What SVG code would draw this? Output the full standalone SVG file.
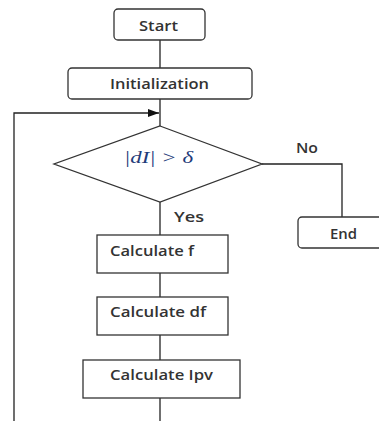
<svg xmlns="http://www.w3.org/2000/svg" width="379" height="421" viewBox="0 0 379 421">
<defs>
<style>
.box{fill:#fff;stroke:#333;stroke-width:1.3}
.ln{fill:none;stroke:#222;stroke-width:1.3}
.t{font-family:"Open Sans","Liberation Sans",sans-serif;font-size:14.5px;font-weight:600;fill:#333}
.m{font-family:"Liberation Serif","DejaVu Serif",serif;font-style:italic;font-size:16px;fill:#1f3c7a}
</style>
<marker id="ah" markerWidth="11" markerHeight="8" refX="11" refY="4" orient="auto" markerUnits="userSpaceOnUse">
<path d="M0,0 L11,4 L0,8 Z" fill="#111"/>
</marker>
</defs>
<rect width="379" height="421" fill="#fff"/>
<g id="connectors">
<path class="ln" d="M160,40 V68"/>
<path class="ln" d="M160,99 V126"/>
<path class="ln" d="M14,421 V113 H159" marker-end="url(#ah)"/>
<path class="ln" d="M262,164 H342 V217"/>
<path class="ln" d="M160,202 V235"/>
<path class="ln" d="M160,273 V297"/>
<path class="ln" d="M160,335 V360"/>
<path class="ln" d="M160,398 V421"/>
<text class="t" x="296" y="153" textLength="22" lengthAdjust="spacingAndGlyphs">No</text>
<text class="t" x="174" y="222" textLength="30" lengthAdjust="spacingAndGlyphs">Yes</text>
</g>
<g id="start">
<rect class="box" x="114" y="9" width="91" height="31" rx="4"/>
<text class="t" x="139" y="31" textLength="39" lengthAdjust="spacingAndGlyphs">Start</text>
</g>
<g id="init">
<rect class="box" x="68" y="68" width="184" height="31" rx="4"/>
<text class="t" x="110" y="89" textLength="99" lengthAdjust="spacingAndGlyphs">Initialization</text>
</g>
<g id="decision">
<polygon class="box" points="160,126 262,164 160,202 54,164"/>
<text class="m" x="124" y="163" textLength="69" lengthAdjust="spacingAndGlyphs">|dI|  &gt;  δ</text>
</g>
<g id="end">
<rect class="box" x="298" y="217" width="90" height="31" rx="4"/>
<text class="t" x="330" y="239" textLength="27" lengthAdjust="spacingAndGlyphs">End</text>
</g>
<g id="calcf">
<rect class="box" x="97" y="235" width="131" height="38"/>
<text class="t" x="110" y="256" textLength="84" lengthAdjust="spacingAndGlyphs">Calculate f</text>
</g>
<g id="calcdf">
<rect class="box" x="97" y="297" width="131" height="38"/>
<text class="t" x="110" y="317" textLength="96" lengthAdjust="spacingAndGlyphs">Calculate df</text>
</g>
<g id="calcipv">
<rect class="box" x="83" y="360" width="157" height="38"/>
<text class="t" x="110" y="380" textLength="103" lengthAdjust="spacingAndGlyphs">Calculate Ipv</text>
</g>
</svg>
